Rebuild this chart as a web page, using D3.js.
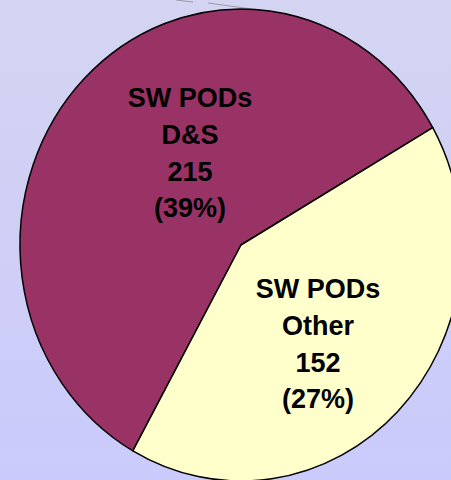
<!DOCTYPE html>
<html>
<head>
<meta charset="utf-8">
<script src="https://cdn.jsdelivr.net/npm/d3@7"></script>
<style>
  html, body { margin: 0; padding: 0; background: #d0d0f6; }
  svg { display: block; }
</style>
</head>
<body>
<script>
// ---- data ----
const categories = ["SW PODs D&S", "SW PODs Other"];
const labelLines = [["SW PODs", "D&S", "215", "(39%)"], ["SW PODs", "Other", "152", "(27%)"]];
const values = [215, 152];
const colors = ["#993366", "#FFFFCC"];

// ---- layout ----
const W = 451, H = 480;
const cx = 241, cy = 245, rx = 221, ry = 236;
const startDeg = 209.3;

const svg = d3.select("body").append("svg").attr("width", W).attr("height", H);
const defs = svg.append("defs");
const grad = defs.append("linearGradient").attr("id", "bg").attr("x1", 0).attr("y1", 0).attr("x2", 0).attr("y2", 1);
grad.append("stop").attr("offset", "0%").attr("stop-color", "#d4d4f2");
grad.append("stop").attr("offset", "100%").attr("stop-color", "#cacafc");
svg.append("rect").attr("width", W).attr("height", H).attr("fill", "url(#bg)");

// faint gray leader fragment at top
const leader = svg.append("g").attr("stroke", "#9a9aa8").attr("stroke-width", 1);
leader.append("line").attr("x1", 176).attr("y1", 0).attr("x2", 193).attr("y2", 2);
leader.append("line").attr("x1", 208).attr("y1", 3).attr("x2", 252).attr("y2", 9);

const color = d3.scaleOrdinal().domain(categories).range(colors);
const a0 = startDeg * Math.PI / 180;
const pie = d3.pie().sort(null).value(d => d.value).startAngle(a0).endAngle(a0 + 2 * Math.PI);
const arc = d3.arc().innerRadius(0).outerRadius(rx);
const data = categories.map((c, i) => ({ cat: c, value: values[i], lines: labelLines[i] }));

const g = svg.append("g").attr("transform", `translate(${cx},${cy}) scale(1,${ry / rx})`);
g.selectAll("path").data(pie(data)).join("path")
  .attr("d", arc)
  .attr("fill", d => color(d.data.cat))
  .attr("stroke", "#000")
  .attr("stroke-width", 1.5)
  .attr("vector-effect", "non-scaling-stroke")
  .attr("stroke-linejoin", "round");

// label anchors (baseline of first line)
const labelPos = [[190, 107], [318, 298]];
const lineH = 36.8;
data.forEach((d, i) => {
  const t = svg.append("text")
    .attr("text-anchor", "middle")
    .attr("font-family", "'Liberation Sans', Arial, sans-serif")
    .attr("font-weight", "bold")
    .attr("font-size", 27)
    .attr("fill", "#000");
  d.lines.forEach((ln, j) => {
    t.append("tspan").attr("x", labelPos[i][0]).attr("y", labelPos[i][1] + j * lineH).text(ln);
  });
});
</script>
</body>
</html>
